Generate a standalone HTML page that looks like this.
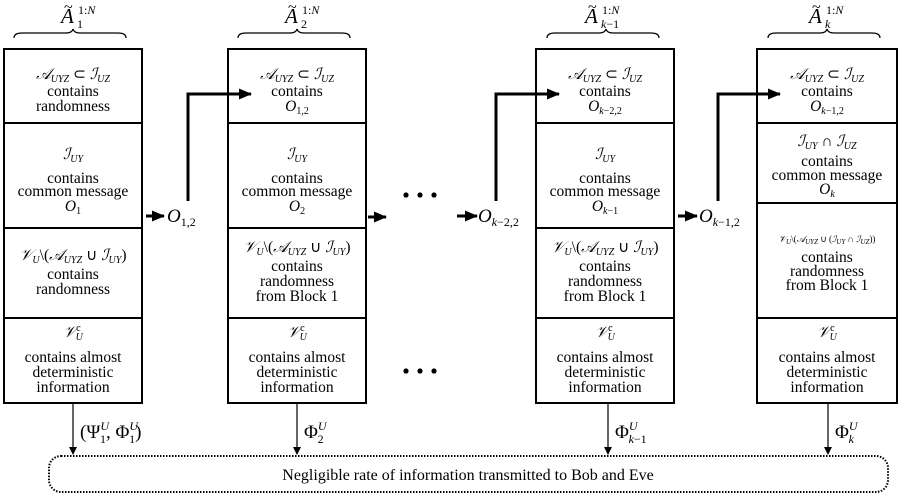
<!DOCTYPE html>
<html><head><meta charset="utf-8"><style>
html,body{margin:0;padding:0;background:#fff;}
svg{display:block;}
text{font-family:"Liberation Serif",serif;fill:#000;}
.m{font-style:italic;}
.t{font-size:15.5px;text-anchor:middle;}
</style></head><body>
<svg width="899" height="497" viewBox="0 0 899 497" xmlns="http://www.w3.org/2000/svg">
<defs>
<marker id="ah" markerWidth="8" markerHeight="8" refX="7" refY="4" orient="auto" markerUnits="userSpaceOnUse"><path d="M0,0 L8,4 L0,8 Z" fill="#000"/></marker>
<marker id="ahb" markerWidth="13" markerHeight="11" refX="12" refY="5.5" orient="auto" markerUnits="userSpaceOnUse"><path d="M0,0 L13,5.5 L0,11 Z" fill="#000"/></marker>
</defs>
<g fill="none" stroke="#000" stroke-width="2">
<rect x="4" y="49" width="138" height="354"/>
<line x1="4" y1="123" x2="142" y2="123"/><line x1="4" y1="228" x2="142" y2="228"/><line x1="4" y1="318" x2="142" y2="318"/>
<rect x="228" y="49" width="138" height="354"/>
<line x1="228" y1="123" x2="366" y2="123"/><line x1="228" y1="228" x2="366" y2="228"/><line x1="228" y1="318" x2="366" y2="318"/>
<rect x="536" y="49" width="138" height="354"/>
<line x1="536" y1="123" x2="674" y2="123"/><line x1="536" y1="228" x2="674" y2="228"/><line x1="536" y1="318" x2="674" y2="318"/>
<rect x="757" y="49" width="140" height="354"/>
<line x1="757" y1="123" x2="897" y2="123"/><line x1="757" y1="203" x2="897" y2="203"/><line x1="757" y1="318" x2="897" y2="318"/>
</g>
<g fill="none" stroke="#000" stroke-width="1.3">
<path d="M14,38 Q14,33 22,33 L66,33 Q72,33 73,29 Q74,33 80,33 L118,33 Q126,33 126,38"/>
<path d="M238,38 Q238,33 246,33 L290,33 Q296,33 297,29 Q298,33 304,33 L342,33 Q350,33 350,38"/>
<path d="M547,38 Q547,33 555,33 L599,33 Q605,33 606,29 Q607,33 613,33 L651,33 Q659,33 659,38"/>
<path d="M768,38 Q768,33 776,33 L820,33 Q826,33 827,29 Q828,33 834,33 L872,33 Q880,33 880,38"/>
</g>
<g>
<text x="61" y="23" class="m" font-size="21">A</text><text x="64" y="12" font-size="16">~</text>
<text x="78" y="14" font-size="12">1:<tspan class="m">N</tspan></text><text x="77" y="28" font-size="12">1</text>
<text x="285" y="23" class="m" font-size="21">A</text><text x="288" y="12" font-size="16">~</text>
<text x="302" y="14" font-size="12">1:<tspan class="m">N</tspan></text><text x="301" y="28" font-size="12">2</text>
<text x="585" y="23" class="m" font-size="21">A</text><text x="588" y="12" font-size="16">~</text>
<text x="602" y="14" font-size="12">1:<tspan class="m">N</tspan></text><text x="601" y="28" font-size="12"><tspan class="m">k</tspan>−1</text>
<text x="809" y="23" class="m" font-size="21">A</text><text x="812" y="12" font-size="16">~</text>
<text x="826" y="14" font-size="12">1:<tspan class="m">N</tspan></text><text x="825" y="28" font-size="12" class="m">k</text>
</g>
<g class="t">
<text x="73" y="79" class="m">𝒜<tspan font-size="10" dy="3">UYZ</tspan><tspan dy="-3" font-style="normal"> ⊂ </tspan>ℐ<tspan font-size="10" dy="3">UZ</tspan></text>
<text x="73" y="96">contains</text><text x="73" y="111">randomness</text>
<text x="73" y="159" class="m">ℐ<tspan font-size="10" dy="3">UY</tspan></text>
<text x="73" y="183">contains</text><text x="73" y="196">common message</text>
<text x="73" y="211" class="m">O<tspan font-size="10" dy="3" font-style="normal">1</tspan></text>
<text x="73" y="260" class="m">𝒱<tspan font-size="10" dy="3">U</tspan><tspan dy="-3" font-style="normal">\(</tspan>𝒜<tspan font-size="10" dy="3">UYZ</tspan><tspan dy="-3" font-style="normal"> ∪ </tspan>ℐ<tspan font-size="10" dy="3">UY</tspan><tspan dy="-3" font-style="normal">)</tspan></text>
<text x="73" y="279">contains</text><text x="73" y="294">randomness</text>
<text x="73" y="337" class="m">𝒱<tspan font-size="10" dy="-6" font-style="normal">c</tspan><tspan font-size="10" dx="-5" dy="9">U</tspan></text>
<text x="73" y="362">contains almost</text><text x="73" y="377">deterministic</text><text x="73" y="392">information</text>

<text x="297" y="79" class="m">𝒜<tspan font-size="10" dy="3">UYZ</tspan><tspan dy="-3" font-style="normal"> ⊂ </tspan>ℐ<tspan font-size="10" dy="3">UZ</tspan></text>
<text x="297" y="96">contains</text>
<text x="297" y="111" class="m">O<tspan font-size="10" dy="3" font-style="normal">1,2</tspan></text>
<text x="297" y="159" class="m">ℐ<tspan font-size="10" dy="3">UY</tspan></text>
<text x="297" y="183">contains</text><text x="297" y="196">common message</text>
<text x="297" y="211" class="m">O<tspan font-size="10" dy="3" font-style="normal">2</tspan></text>
<text x="297" y="252" class="m">𝒱<tspan font-size="10" dy="3">U</tspan><tspan dy="-3" font-style="normal">\(</tspan>𝒜<tspan font-size="10" dy="3">UYZ</tspan><tspan dy="-3" font-style="normal"> ∪ </tspan>ℐ<tspan font-size="10" dy="3">UY</tspan><tspan dy="-3" font-style="normal">)</tspan></text>
<text x="297" y="271">contains</text><text x="297" y="286">randomness</text><text x="297" y="301">from Block 1</text>
<text x="297" y="337" class="m">𝒱<tspan font-size="10" dy="-6" font-style="normal">c</tspan><tspan font-size="10" dx="-5" dy="9">U</tspan></text>
<text x="297" y="362">contains almost</text><text x="297" y="377">deterministic</text><text x="297" y="392">information</text>

<text x="605" y="79" class="m">𝒜<tspan font-size="10" dy="3">UYZ</tspan><tspan dy="-3" font-style="normal"> ⊂ </tspan>ℐ<tspan font-size="10" dy="3">UZ</tspan></text>
<text x="605" y="96">contains</text>
<text x="605" y="111" class="m">O<tspan font-size="10" dy="3">k</tspan><tspan font-size="10" font-style="normal">−2,2</tspan></text>
<text x="605" y="159" class="m">ℐ<tspan font-size="10" dy="3">UY</tspan></text>
<text x="605" y="183">contains</text><text x="605" y="196">common message</text>
<text x="605" y="211" class="m">O<tspan font-size="10" dy="3">k</tspan><tspan font-size="10" font-style="normal">−1</tspan></text>
<text x="605" y="252" class="m">𝒱<tspan font-size="10" dy="3">U</tspan><tspan dy="-3" font-style="normal">\(</tspan>𝒜<tspan font-size="10" dy="3">UYZ</tspan><tspan dy="-3" font-style="normal"> ∪ </tspan>ℐ<tspan font-size="10" dy="3">UY</tspan><tspan dy="-3" font-style="normal">)</tspan></text>
<text x="605" y="271">contains</text><text x="605" y="286">randomness</text><text x="605" y="301">from Block 1</text>
<text x="605" y="337" class="m">𝒱<tspan font-size="10" dy="-6" font-style="normal">c</tspan><tspan font-size="10" dx="-5" dy="9">U</tspan></text>
<text x="605" y="362">contains almost</text><text x="605" y="377">deterministic</text><text x="605" y="392">information</text>

<text x="827" y="79" class="m">𝒜<tspan font-size="10" dy="3">UYZ</tspan><tspan dy="-3" font-style="normal"> ⊂ </tspan>ℐ<tspan font-size="10" dy="3">UZ</tspan></text>
<text x="827" y="96">contains</text>
<text x="827" y="111" class="m">O<tspan font-size="10" dy="3">k</tspan><tspan font-size="10" font-style="normal">−1,2</tspan></text>
<text x="827" y="146" class="m">ℐ<tspan font-size="10" dy="3">UY</tspan><tspan dy="-3" font-style="normal"> ∩ </tspan>ℐ<tspan font-size="10" dy="3">UZ</tspan></text>
<text x="827" y="166">contains</text><text x="827" y="180">common message</text>
<text x="827" y="194" class="m">O<tspan font-size="10" dy="3">k</tspan></text>
<text x="827" y="242" class="m" font-size="9">𝒱<tspan font-size="7" dy="2">U</tspan><tspan dy="-2" font-style="normal">\(</tspan>𝒜<tspan font-size="7" dy="2">UYZ</tspan><tspan dy="-2" font-style="normal"> ∪ (</tspan>ℐ<tspan font-size="7" dy="2">UY</tspan><tspan dy="-2" font-style="normal"> ∩ </tspan>ℐ<tspan font-size="7" dy="2">UZ</tspan><tspan dy="-2" font-style="normal">))</tspan></text>
<text x="827" y="262">contains</text><text x="827" y="276">randomness</text><text x="827" y="290">from Block 1</text>
<text x="827" y="337" class="m">𝒱<tspan font-size="10" dy="-6" font-style="normal">c</tspan><tspan font-size="10" dx="-5" dy="9">U</tspan></text>
<text x="827" y="362">contains almost</text><text x="827" y="377">deterministic</text><text x="827" y="392">information</text>
</g>
<g stroke="#000" stroke-width="3" fill="none">
<line x1="146" y1="216" x2="164" y2="216" marker-end="url(#ahb)"/>
<line x1="368" y1="217" x2="386" y2="217" marker-end="url(#ahb)"/>
<line x1="457" y1="216" x2="477" y2="216" marker-end="url(#ahb)"/>
<line x1="678" y1="216" x2="697" y2="216" marker-end="url(#ahb)"/>
<polyline points="188,201 188,94 251,94" marker-end="url(#ahb)"/>
<polyline points="496,201 496,94 559,94" marker-end="url(#ahb)"/>
<polyline points="718,201 718,94 780,94" marker-end="url(#ahb)"/>
</g>
<g font-size="19">
<text x="167" y="222" class="m">O<tspan font-size="12" dy="4" font-style="normal">1,2</tspan></text>
<text x="478" y="222" class="m">O<tspan font-size="12" dy="4">k</tspan><tspan font-size="12" font-style="normal">−2,2</tspan></text>
<text x="699" y="222" class="m">O<tspan font-size="12" dy="4">k</tspan><tspan font-size="12" font-style="normal">−1,2</tspan></text>
</g>
<g fill="#000">
<circle cx="406" cy="195" r="2.6"/><circle cx="420" cy="195" r="2.6"/><circle cx="434" cy="195" r="2.6"/>
<circle cx="406" cy="371" r="2.6"/><circle cx="420" cy="371" r="2.6"/><circle cx="434" cy="371" r="2.6"/>
</g>
<g stroke="#000" stroke-width="1.2">
<line x1="73" y1="403" x2="73" y2="454" marker-end="url(#ah)"/>
<line x1="297" y1="403" x2="297" y2="454" marker-end="url(#ah)"/>
<line x1="608" y1="403" x2="608" y2="454" marker-end="url(#ah)"/>
<line x1="828" y1="403" x2="828" y2="454" marker-end="url(#ah)"/>
</g>
<g font-size="19">
<text x="80" y="438">(Ψ<tspan font-size="12" dy="-8" class="m">U</tspan><tspan font-size="12" dx="-9" dy="13">1</tspan><tspan dy="-5">, Φ</tspan><tspan font-size="12" dy="-8" class="m">U</tspan><tspan font-size="12" dx="-9" dy="13">1</tspan><tspan dy="-5">)</tspan></text>
<text x="304" y="438">Φ<tspan font-size="12" dy="-8" class="m">U</tspan><tspan font-size="12" dx="-9" dy="13">2</tspan></text>
<text x="615" y="438">Φ<tspan font-size="12" dy="-8" class="m">U</tspan><tspan font-size="12" dx="-9" dy="13" class="m">k</tspan><tspan font-size="12">−1</tspan></text>
<text x="835" y="438">Φ<tspan font-size="12" dy="-8" class="m">U</tspan><tspan font-size="12" dx="-9" dy="13" class="m">k</tspan></text>
</g>
<rect x="49" y="456" width="839" height="36" rx="12" fill="none" stroke="#000" stroke-width="2" stroke-dasharray="1.5,1.5"/>
<text x="468" y="480" font-size="16" text-anchor="middle">Negligible rate of information transmitted to Bob and Eve</text>
</svg>
</body></html>
